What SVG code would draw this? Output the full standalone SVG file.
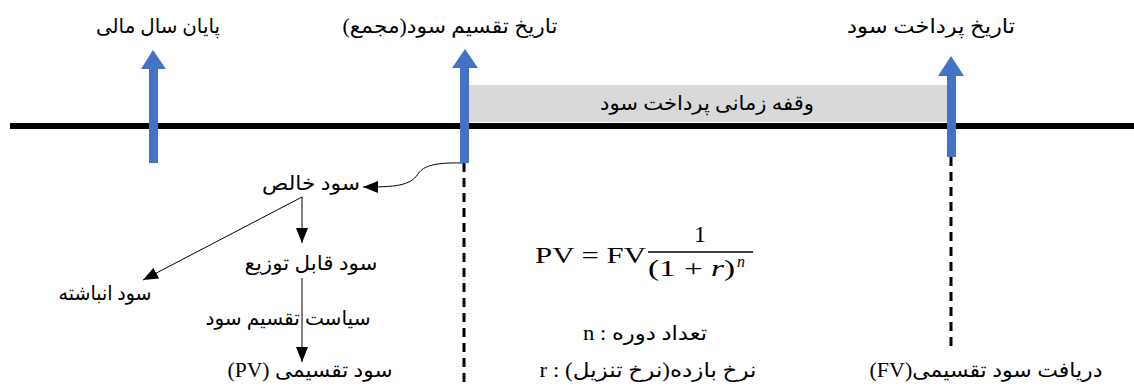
<svg xmlns="http://www.w3.org/2000/svg" width="1134" height="387" viewBox="0 0 1134 387">
<style>
.t{font-family:"Liberation Serif","DejaVu Sans",serif;font-size:20px;fill:#000;text-anchor:middle}
.m{font-family:"Liberation Serif",serif;fill:#000}
.blue{fill:#4472c4}
.dash{stroke:#000;stroke-width:3;stroke-dasharray:9 6;fill:none}
.thin{stroke:#000;stroke-width:1;fill:none}
</style>
<defs>
<marker id="ah" markerWidth="16" markerHeight="12" refX="15" refY="6" orient="auto" markerUnits="userSpaceOnUse">
<path d="M0,0 L15,6 L0,12 Z" fill="#000"/>
</marker>
</defs>
<rect width="1134" height="387" fill="#fff"/>
<g id="gap-band">
<rect x="469" y="85" width="478" height="37" fill="#d9d9d9"/>
<text class="t" x="707" y="110" direction="rtl" textLength="214" lengthAdjust="spacingAndGlyphs">وقفه زمانی پرداخت سود</text>
</g>
<g id="timeline">
<line x1="10" y1="126" x2="1134" y2="126" stroke="#000" stroke-width="6"/>
</g>
<g id="connectors">
<line class="dash" x1="464" y1="163" x2="464" y2="387"/>
<line class="dash" x1="951" y1="157" x2="951" y2="346"/>
<path class="thin" stroke="#555" d="M462,163 C430,162 422,168 418,174 C410,186 395,187 363,187" marker-end="url(#ah)"/>
<line class="thin" x1="302" y1="197" x2="302" y2="243" marker-end="url(#ah)"/>
<line class="thin" x1="302" y1="197" x2="143" y2="280" marker-end="url(#ah)"/>
<line class="thin" x1="302" y1="278" x2="302" y2="362" marker-end="url(#ah)"/>
</g>
<g id="arrow-fiscal-year-end">
<polygon class="blue" points="149,163 149,69 141,69 153,50 166,69 158,69 158,163"/>
<text class="t" x="158" y="33" direction="rtl" textLength="124" lengthAdjust="spacingAndGlyphs">پایان سال مالی</text>
</g>
<g id="arrow-distribution-date">
<polygon class="blue" points="460,163 460,68 452,68 465,49 478,68 469,68 469,163"/>
<text class="t" x="450" y="33" direction="rtl" textLength="215" lengthAdjust="spacingAndGlyphs">تاریخ تقسیم سود(مجمع)</text>
</g>
<g id="arrow-payment-date">
<polygon class="blue" points="947,157 947,76 938,76 951,56 964,76 956,76 956,157"/>
<text class="t" x="931" y="33" direction="rtl" textLength="168" lengthAdjust="spacingAndGlyphs">تاریخ پرداخت سود</text>
</g>
<g id="net-profit"><text class="t" x="311" y="190" direction="rtl" textLength="98" lengthAdjust="spacingAndGlyphs">سود خالص</text></g>
<g id="distributable-profit"><text class="t" x="311" y="270" direction="rtl" textLength="133" lengthAdjust="spacingAndGlyphs">سود قابل توزیع</text></g>
<g id="retained-profit"><text class="t" x="105" y="300" direction="rtl" textLength="93" lengthAdjust="spacingAndGlyphs">سود انباشته</text></g>
<g id="policy-label"><text class="t" x="288" y="325" direction="rtl" textLength="165" lengthAdjust="spacingAndGlyphs">سیاست تقسیم سود</text></g>
<g id="dividend-pv"><text class="t" x="310" y="377" direction="rtl" textLength="165" lengthAdjust="spacingAndGlyphs">سود تقسیمی (PV)</text></g>
<g id="formula">
<text class="m" x="535" y="263" font-size="24" textLength="111" lengthAdjust="spacingAndGlyphs">PV = FV</text>
<line x1="648" y1="252" x2="753" y2="252" stroke="#000" stroke-width="1.5"/>
<text class="m" x="700" y="242" font-size="24" text-anchor="middle">1</text>
<text class="m" x="648" y="276" font-size="24" textLength="87" lengthAdjust="spacingAndGlyphs">(1 + <tspan font-style="italic">r</tspan>)</text>
<text class="m" x="737" y="267" font-size="16" font-style="italic">n</text>
</g>
<g id="n-def"><text class="t" x="645" y="340" direction="rtl" textLength="124" lengthAdjust="spacingAndGlyphs">تعداد دوره : n</text></g>
<g id="r-def"><text class="t" x="648" y="377" direction="rtl" textLength="217" lengthAdjust="spacingAndGlyphs">نرخ بازده(نرخ تنزیل) : r</text></g>
<g id="dividend-fv"><text class="t" x="986" y="377" direction="rtl" textLength="233" lengthAdjust="spacingAndGlyphs">دریافت سود تقسیمی(FV)</text></g>
</svg>
